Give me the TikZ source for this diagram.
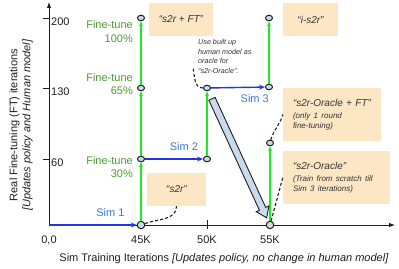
\documentclass[tikz,border=0pt]{standalone}
\usepackage{fontspec}
\setmainfont{Liberation Sans}
\usepackage{xcolor}
\usepackage{tikz}
\usetikzlibrary{arrows.meta,positioning,shapes.geometric,shapes.arrows}
\definecolor{ink}{HTML}{1E1E1E}
\definecolor{notegray}{HTML}{333333}
\definecolor{ftgreen}{HTML}{1FEA1F}
\definecolor{fttext}{HTML}{4E9A2E}
\definecolor{simblue}{HTML}{2236DC}
\definecolor{simtext}{HTML}{3A78E2}
\definecolor{peach}{HTML}{FCE6C4}
\definecolor{dotfill}{HTML}{C8DAEC}
\tikzset{
  ckpt/.style    ={ellipse,draw=ink,line width=1pt,fill=dotfill,minimum width=7pt,
                   minimum height=5.5pt,inner sep=0pt},
  axckpt/.style  ={ckpt,minimum width=7.5pt,minimum height=7.5pt},
  axisline/.style={-{Latex[length=6pt,width=4.5pt]},line width=0.9pt,draw=ink},
  tickmark/.style={line width=0.9pt,draw=ink},
  simflow/.style ={-{Stealth[length=6pt,width=5pt]},line width=1.4pt,draw=simblue},
  ftflow/.style  ={-{Stealth[length=5pt,width=4pt]},line width=1.4pt,draw=ftgreen},
  ftlab/.style   ={text=fttext,align=right,anchor=east,inner sep=0pt,
                   font=\fontsize{11}{13.5}\selectfont},
  simlab/.style  ={text=simtext,font=\fontsize{11}{13}\selectfont},
  note/.style    ={fill=peach,text=notegray,align=left,inner ysep=0pt,inner xsep=10pt,
                   font=\fontsize{10}{10}\selectfont\itshape},
  link/.style    ={line width=1.1pt,draw=ink,dash pattern=on 3pt off 2.2pt},
  bigarrow/.style={single arrow,draw=ink,line width=0.9pt,fill=dotfill,inner sep=3pt,
                   single arrow head extend=3.5pt,single arrow tip angle=70,
                   minimum height=131pt}
}
\begin{document}
\begin{tikzpicture}[x=1pt,y=1pt,every node/.style={font=\fontsize{11}{13}\selectfont,text=ink}]
  \useasboundingbox (0,0) rectangle (399,268);
  % axes
  \coordinate (org) at (49,43);
  \coordinate (xtip) at (395,43);
  \coordinate (ytip) at (49,266);
  \draw[axisline] (org) -- (xtip);
  \draw[axisline] (org) -- (ytip);
  \foreach \x/\lab in {49/{0,0},141/45K,207/50K,270/55K}{
    \node at (\x,28) {\lab};}
  \foreach \x in {141,207,270}
    \draw[tickmark] (\x,39) -- (\x,48);
  \foreach \y/\lab in {109/60,180/130,250/200}{
    \draw[tickmark] (43,\y) -- (49,\y);
    \node[anchor=west,inner sep=0pt] at (51,\y-4) {\lab};}
  \node (xlab) at (224,9) {Sim Training Iterations \textit{[Updates policy, no change in human model]}};
  \node[rotate=90,align=center] (ylab) at (21,143)
    {Real Fine-tuning (FT) iterations\\\textit{[Updates policy and Human model]}};
  % checkpoints
  \node[axckpt] (k45) at (141,43) {};
  \node[ckpt] (k45a) at (141,109) {};
  \node[ckpt] (k45b) at (141,180) {};
  \node[ckpt] (k45c) at (141,250) {};
  \node[ckpt] (k50a) at (207,109) {};
  \node[ckpt] (k50b) at (207,180) {};
  \node[ckpt] (k55b) at (269,181) {};
  \node[ckpt] (k55c) at (269,250) {};
  \node[axckpt] (k55) at (270,43) {};
  \node[ckpt] (k55a) at (270,125) {};
  % sim training
  \draw[simflow] (org) -- node[simlab,above=4pt,pos=0.70]{Sim 1} (k45);
  \draw[simflow] (k45a) -- node[simlab,above=4pt,pos=0.67]{Sim 2} (k50a);
  \draw[simflow] (k50b) -- node[simlab,below=3pt,pos=0.81]{Sim 3} (k55b);
  % fine-tuning
  \draw[ftflow] (k45) -- (k45a);
  \draw[ftflow] (k45a) -- (k45b);
  \draw[ftflow] (k45b) -- (k45c);
  \draw[ftflow] (k50a) -- (k50b);
  \draw[ftflow] (k55b) -- (k55c);
  \draw[ftflow] (k55) -- (k55a);
  \node[ftlab] (ft30) at (133,101) {Fine-tune\\30\%};
  \node[ftlab] (ft65) at (133,184) {Fine-tune\\65\%};
  \node[ftlab] (ft100) at (133,236.5) {Fine-tune\\100\%};
  % notes
  \node[note,minimum width=64pt,minimum height=33pt] (nft) at (181,248.5) {“s2r + FT”};
  \node[note,minimum width=55pt,minimum height=33pt] (ni) at (310.5,248.5) {“i-s2r”};
  \node[note,minimum width=59pt,minimum height=33pt] (ns) at (176.5,78.5) {“s2r”};
  \node[note,text width=78pt,minimum height=53pt] (nof) at (332,153.5)
    {“s2r-Oracle + FT”\\[2pt]{\fontsize{8}{10}\selectfont(only 1 round\\fine-tuning)}};
  \node[note,text width=87pt,minimum height=53pt] (nor) at (336.5,90.5)
    {“s2r-Oracle”\\[2pt]{\fontsize{8}{10}\selectfont(Train from scratch till\\Sim 3 iterations)}};
  \node[anchor=north west,align=left,inner sep=0pt,text=notegray,
        font=\fontsize{7.2}{9.7}\selectfont\itshape] (nuse) at (198,229)
    {Use built up\\human model as\\oracle for\\“s2r-Oracle”.};
  % dashed call-outs
  \draw[link] (k45) to[out=20,in=-90] (ns.south);
  \draw[link] (k55) to[out=75,in=-105] (nor.west);
  \draw[link] (k55a) to[out=75,in=-105] (nof.west);
  \draw[link] (k50b.west) to[out=180,in=-80] ([shift={(-5pt,7pt)}]nuse.south west);
  % oracle hand-over
  \path (k50b) -- node[bigarrow,sloped,pos=0.5]{} (k55);
\end{tikzpicture}
\end{document}
